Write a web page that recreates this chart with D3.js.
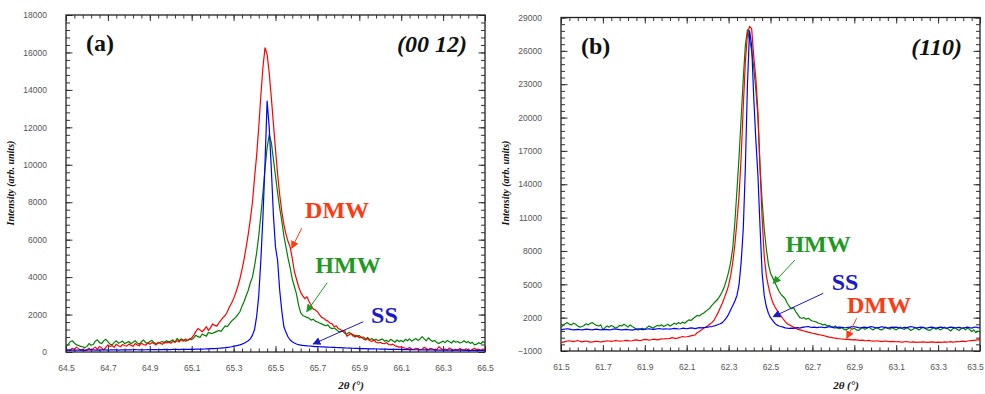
<!DOCTYPE html>
<html>
<head>
<meta charset="utf-8">
<script src="https://cdn.jsdelivr.net/npm/d3@7"></script>
<style>
  body { margin: 0; background: #fff; }
  svg { display: block; }
</style>
</head>
<body>
<svg id="chart" width="985" height="394"></svg>
<script>
// ---- Panel (a): (00 12) reflection, 2θ = 64.50 … 66.50 in 0.01° steps ----
const thetaA = d3.range(201).map(i => +(64.5 + i * 0.01).toFixed(2));

const ssA = [
  100,105,110,100,95,100,105,110,105,100,
  100,110,115,110,105,100,105,110,115,110,
  105,110,120,115,110,105,110,115,120,115,
  110,115,120,125,120,115,110,115,120,125,
  120,125,130,125,120,125,130,135,130,125,
  130,135,140,135,130,135,140,145,140,145,
  150,145,150,155,160,155,160,165,170,175,
  180,185,190,200,210,220,230,245,260,280,
  310,330,350,380,420,470,530,600,700,900,
  1200,1900,3000,4900,7200,10100,13400,12000,9800,7300,
  5600,4900,3300,2200,1350,1050,800,640,550,480,
  430,390,370,350,340,330,320,310,300,290,
  285,280,275,270,265,260,255,250,245,240,
  235,230,225,220,215,210,205,200,195,190,
  185,180,180,175,170,170,165,165,160,160,
  155,155,150,150,145,145,140,140,140,135,
  135,130,130,130,125,125,120,120,120,120,
  115,115,115,110,110,110,110,105,105,105,
  105,100,100,100,100,100,95,95,95,95,
  95,90,90,90,90,90,85,85,85,85,
  85
];

const dmwA = [
  50,120,80,200,150,260,180,90,140,60,
  120,200,90,180,260,140,300,220,110,250,
  380,290,340,250,420,330,280,400,350,310,
  420,360,300,450,380,330,470,400,360,480,
  420,500,450,380,520,460,410,540,480,530,
  470,560,520,600,540,650,580,700,620,680,
  760,900,1100,1250,1180,1080,1200,1350,1150,1300,
  1500,1420,1380,1560,1700,1850,1950,2150,2400,2600,
  2850,3150,3500,3900,4400,4950,5600,6300,7100,8000,
  9300,10500,12000,13700,15200,16250,15900,14900,13600,12200,
  10800,9500,8400,7500,6800,6300,5900,5600,5000,4300,
  3900,3500,3200,3000,2850,2950,2700,2500,2300,2250,
  2150,2000,1850,1800,1700,1650,1550,1500,1350,1400,
  1250,1200,1100,1150,850,900,1000,920,800,880,
  760,800,700,640,720,600,560,650,520,480,
  520,460,440,500,400,380,420,330,300,260,
  280,230,200,180,240,150,130,200,170,110,
  150,250,180,120,200,160,90,140,280,180,
  120,160,100,220,140,80,150,100,190,130,
  90,170,120,60,140,200,110,150,80,160,
  140
];

const hmwA = [
  320,400,550,600,480,380,350,300,280,220,
  300,450,360,400,580,650,500,450,600,680,
  550,420,380,500,600,470,520,580,450,500,
  560,440,520,600,480,420,550,640,500,470,
  560,620,500,450,470,520,560,480,600,540,
  580,650,520,720,600,700,640,580,620,700,
  660,750,900,820,780,960,900,850,1050,1000,
  1000,1050,1100,1150,1100,1250,1400,1350,1500,1650,
  1750,1850,2000,2150,2450,2700,3000,3300,3700,4000,
  4600,5300,6200,7300,8500,9800,10900,11600,11200,10300,
  9400,8500,7700,7000,6200,5600,5000,4500,3900,3500,
  3100,2500,2100,1950,1900,1850,1800,1700,1750,1650,
  1600,1550,1500,1450,1400,1450,1300,1250,1280,1200,
  1100,1080,1150,1000,950,1050,980,850,900,820,
  880,760,800,700,780,650,720,620,680,600,
  650,700,580,620,550,680,600,520,640,560,
  620,540,680,600,700,580,650,720,620,700,
  820,700,600,760,640,560,620,500,460,520,
  580,500,620,550,480,600,520,560,480,520,
  600,500,560,460,520,380,420,500,440,560,
  480
];

// ---- Panel (b): (110) reflection, 2θ = 61.50 … 63.50 in 0.01° steps ----
const thetaB = d3.range(201).map(i => +(61.5 + i * 0.01).toFixed(2));

const ssB = [
  900,950,980,1000,960,920,900,930,950,920,
  900,930,960,950,920,900,940,960,930,900,
  920,950,930,900,920,960,980,950,920,900,
  930,950,920,900,880,920,960,1000,960,930,
  950,980,1000,960,940,970,1000,1020,980,960,
  1000,980,960,1000,1040,1020,980,1000,1050,1030,
  1000,1040,1080,1050,1020,1060,1100,1080,1100,1120,
  1150,1180,1200,1250,1300,1380,1450,1550,1750,2000,
  2300,2700,3100,3500,4000,5000,7000,10000,15500,23000,
  27800,26500,21800,18000,14800,10200,6000,4000,3000,2400,
  2000,1750,1500,1350,1250,1200,1150,1080,1050,1040,
  1060,1040,1080,1100,1060,1120,1150,1180,1200,1150,
  1120,1150,1100,1130,1160,1120,1100,1140,1180,1150,
  1100,1080,1120,1150,1130,1100,1090,1120,1150,1200,
  1180,1140,1100,1080,1120,1150,1100,1130,1200,1160,
  1100,1080,1120,1180,1150,1100,1060,1100,1140,1120,
  1150,1100,1060,1080,1120,1100,1150,1200,1160,1100,
  1080,1120,1150,1100,1060,1080,1120,1150,1100,1060,
  1100,1140,1120,1080,1050,1100,1150,1120,1080,1100,
  1130,1080,1050,1100,1150,1100,1060,1120,1160,1100,
  1080
];

const dmwB = [
  -250,-200,-150,-100,-80,-120,-150,-100,-60,-120,
  -180,-140,-100,-150,-200,-180,-150,-120,-160,-180,
  -150,-120,-80,-100,-140,-100,-60,-80,-120,-100,
  -80,-40,-60,-100,-80,-20,0,-40,-60,0,
  50,20,-20,10,60,40,0,50,100,80,
  120,100,140,200,160,120,180,240,300,260,
  280,320,360,400,440,650,760,880,1050,1150,
  1250,1400,1550,1750,2100,2450,2900,3300,3800,4300,
  4900,5800,7000,8600,10700,13000,16500,21000,25000,27500,
  28200,28000,25500,23500,20500,15500,11000,7500,5800,4800,
  4000,3400,3000,2700,2400,2150,1900,1650,1450,1350,
  1250,1150,1050,950,900,850,800,750,700,650,
  600,560,520,480,440,400,350,300,250,220,
  180,150,120,100,80,60,50,40,20,0,
  20,0,-20,-40,-20,-60,-80,-50,-100,-120,
  -100,-80,-120,-150,-120,-100,-140,-160,-130,-150,
  -170,-150,-180,-200,-170,-150,-190,-210,-180,-200,
  -220,-190,-200,-180,-210,-230,-200,-180,-200,-220,
  -200,-230,-210,-180,-200,-190,-160,-200,-180,-150,
  -170,-140,-120,-150,-100,-80,-60,-40,-20,0,
  20
];

const hmwB = [
  1100,1300,1450,1550,1400,1350,1500,1400,1250,1150,
  1200,1300,1450,1350,1500,1550,1400,1300,1250,1350,
  900,1100,1250,1150,1300,1200,1050,1150,1300,1250,
  1400,1300,1150,1350,1200,1100,950,900,1000,1050,
  950,1100,1250,1150,1050,1200,1300,1250,1350,1200,
  1300,1400,1250,1350,1500,1400,1550,1450,1600,1500,
  1650,1800,1750,1900,2050,2200,2150,2300,2400,2550,
  2700,2850,3100,3300,3500,3700,4000,4350,4800,5400,
  6100,7000,8300,10600,13500,16500,20000,23500,26500,27900,
  27000,26000,24500,22500,20000,15500,12500,10000,8200,6800,
  6000,5600,5200,4800,4400,4100,3900,3700,3300,3000,
  2800,2900,2550,2300,2000,1950,2000,1850,1950,1800,
  1700,1650,1600,1500,1450,1350,1400,1250,1300,1200,
  1150,1250,1050,1000,1100,950,900,1000,1100,950,
  1050,900,850,1000,1100,950,1050,1150,1000,900,
  1050,1100,950,900,1000,1150,1050,950,1100,1000,
  900,1050,1150,1000,950,1100,1000,850,950,1100,
  1000,900,1050,1150,1000,900,850,1000,1100,950,
  1050,900,1000,1150,1050,950,800,1000,1100,950,
  850,1000,1100,900,1050,950,750,900,650,800,
  700
];

// ---- axis ticks ----
const xTicksA = [64.5, 64.7, 64.9, 65.1, 65.3, 65.5, 65.7, 65.9, 66.1, 66.3, 66.5];
const xTicksB = [61.5, 61.7, 61.9, 62.1, 62.3, 62.5, 62.7, 62.9, 63.1, 63.3, 63.5];
const yTicksA = [0, 2000, 4000, 6000, 8000, 10000, 12000, 14000, 16000, 18000];
const yTicksB = [-1000, 2000, 5000, 8000, 11000, 14000, 17000, 20000, 23000, 26000, 29000];

const colors = { DMW: '#ff0000', HMW: '#008000', SS: '#0000ff' };
const labelColors = { DMW: '#ff3a12', HMW: '#1f9a1f', SS: '#1a1acc' };

const panels = [
  {
    tag: '(a)', plane: '(00 12)',
    theta: thetaA,
    series: [ { name: 'HMW', values: hmwA }, { name: 'DMW', values: dmwA }, { name: 'SS', values: ssA } ],
    xDomain: [64.5, 66.5], yDomain: [0, 18000],
    xTicks: xTicksA, yTicks: yTicksA, xMinorStep: 0.04, yMinorStep: 400,
    box: { left: 66, right: 485, top: 15, bottom: 352 },
    // label anchor and arrow (from → to) in data units
    notes: [
      { name: 'DMW', at: [65.794, 7157], from: [65.625, 6607], to: [65.577, 5539] },
      { name: 'HMW', at: [65.846, 4219], from: [65.747, 3701], to: [65.649, 2152] },
      { name: 'SS',  at: [66.020, 1549], from: [65.919, 1618], to: [65.680, 427] }
    ]
  },
  {
    tag: '(b)', plane: '(110)',
    theta: thetaB,
    series: [ { name: 'HMW', values: hmwB }, { name: 'DMW', values: dmwB }, { name: 'SS', values: ssB } ],
    xDomain: [61.5, 63.5], yDomain: [-1000, 29000],
    xTicks: xTicksB, yTicks: yTicksB, xMinorStep: 0.04, yMinorStep: 600,
    box: { left: 561, right: 980, top: 17.5, bottom: 351 },
    notes: [
      { name: 'HMW', at: [62.727, 7906], from: [62.617, 7186], to: [62.513, 5090] },
      { name: 'SS',  at: [62.856, 4488], from: [62.752, 4191], to: [62.513, 2086] },
      { name: 'DMW', at: [63.018, 2418], from: [62.911, 1942], to: [62.864, 142] }
    ]
  }
];

const W = 985;
const svg = d3.select('#chart');
const defs = svg.append('defs');

// arrowheads, one per colour
Object.entries(labelColors).forEach(([name, c]) => {
  defs.append('marker')
    .attr('id', 'arrow-' + name)
    .attr('viewBox', '0 0 10 10')
    .attr('refX', 9).attr('refY', 5)
    .attr('markerWidth', 8).attr('markerHeight', 8)
    .attr('markerUnits', 'userSpaceOnUse')
    .attr('orient', 'auto')
    .append('path')
    .attr('d', 'M0,0 L10,5 L0,10 Z')
    .attr('fill', c);
});

const tickFont = '"Liberation Sans", Arial, sans-serif';
const serif = '"Liberation Serif", "Times New Roman", serif';

panels.forEach((p, pi) => {
  const b = p.box;
  const x = d3.scaleLinear().domain(p.xDomain).range([b.left, b.right]);
  const y = d3.scaleLinear().domain(p.yDomain).range([b.bottom, b.top]);
  const w = b.right - b.left, h = b.bottom - b.top;

  const xMinor = d3.range(p.xDomain[0], p.xDomain[1] + 1e-9, p.xMinorStep).map(v => +v.toFixed(2));
  const yMinor = d3.range(p.yDomain[0], p.yDomain[1] + 1e-9, p.yMinorStep);

  const g = svg.append('g');

  defs.append('clipPath').attr('id', 'clip' + pi)
    .append('rect').attr('x', b.left).attr('y', b.top).attr('width', w).attr('height', h);

  // ticks (all pointing into the plot)
  const styleAxis = sel => {
    sel.select('.domain').remove();
    sel.selectAll('.tick line').attr('stroke', '#333').attr('stroke-width', 1);
    sel.selectAll('.tick text').attr('fill', '#555')
      .style('font-family', tickFont).style('font-size', '8.5px');
  };

  g.append('g').attr('transform', `translate(0,${b.bottom})`)
    .call(d3.axisBottom(x).tickValues(xMinor).tickSize(-3.5).tickFormat(''))
    .call(styleAxis);
  const xAxisG = g.append('g').attr('transform', `translate(0,${b.bottom})`)
    .call(d3.axisBottom(x).tickValues(p.xTicks).tickSize(-6).tickPadding(13).tickFormat(d3.format('.1f')))
    .call(styleAxis);
  // keep the outermost tick label inside the page
  xAxisG.selectAll('.tick text').each(function () {
    const bb = this.getBBox();
    const m = this.parentNode.getCTM();
    const right = m.e + bb.x + bb.width;
    if (right > W - 1) d3.select(this).attr('x', (W - 1) - right);
  });
  g.append('g').attr('transform', `translate(0,${b.top})`)
    .call(d3.axisTop(x).tickValues(xMinor).tickSize(-3.5).tickFormat(''))
    .call(styleAxis);
  g.append('g').attr('transform', `translate(0,${b.top})`)
    .call(d3.axisTop(x).tickValues(p.xTicks).tickSize(-6).tickFormat(''))
    .call(styleAxis);

  g.append('g').attr('transform', `translate(${b.left},0)`)
    .call(d3.axisLeft(y).tickValues(yMinor).tickSize(-4).tickFormat(''))
    .call(styleAxis);
  g.append('g').attr('transform', `translate(${b.left},0)`)
    .call(d3.axisLeft(y).tickValues(p.yTicks).tickSize(-6.5).tickPadding(19).tickFormat(d3.format('d')))
    .call(styleAxis);
  g.append('g').attr('transform', `translate(${b.right},0)`)
    .call(d3.axisRight(y).tickValues(yMinor).tickSize(-4).tickFormat(''))
    .call(styleAxis);
  g.append('g').attr('transform', `translate(${b.right},0)`)
    .call(d3.axisRight(y).tickValues(p.yTicks).tickSize(-6.5).tickFormat(''))
    .call(styleAxis);

  // frame
  g.append('rect')
    .attr('x', b.left).attr('y', b.top).attr('width', w).attr('height', h)
    .attr('fill', 'none').attr('stroke', '#222').attr('stroke-width', 1.3);

  // curves
  const line = d3.line()
    .x((d, i) => x(p.theta[i]))
    .y(d => y(d));
  const curves = g.append('g').attr('clip-path', `url(#clip${pi})`);
  p.series.forEach(s => {
    curves.append('path')
      .datum(s.values)
      .attr('d', line)
      .attr('fill', 'none')
      .attr('stroke', colors[s.name])
      .attr('stroke-width', 1.2)
      .attr('stroke-linejoin', 'round');
  });

  // series labels and arrows
  p.notes.forEach(n => {
    g.append('line')
      .attr('x1', x(n.from[0])).attr('y1', y(n.from[1]))
      .attr('x2', x(n.to[0])).attr('y2', y(n.to[1]))
      .attr('stroke', labelColors[n.name]).attr('stroke-width', 1)
      .attr('marker-end', `url(#arrow-${n.name})`);
    g.append('text')
      .attr('x', x(n.at[0])).attr('y', y(n.at[1]))
      .attr('text-anchor', 'middle')
      .attr('fill', labelColors[n.name])
      .style('font-family', serif).style('font-weight', 'bold').style('font-size', '24px')
      .text(n.name);
  });

  // panel tag and reflection
  g.append('text')
    .attr('x', b.left + 20).attr('y', b.top + 36)
    .style('font-family', serif).style('font-weight', 'bold').style('font-size', '24px')
    .attr('fill', '#111')
    .text(p.tag);
  g.append('text')
    .attr('x', b.right - 18).attr('y', b.top + 37)
    .attr('text-anchor', 'end')
    .style('font-family', serif).style('font-weight', 'bold').style('font-style', 'italic').style('font-size', '24px')
    .attr('fill', '#111')
    .text(p.plane);

  // axis titles
  g.append('text')
    .attr('transform', `translate(${b.left - 52},${183}) rotate(-90)`)
    .attr('text-anchor', 'middle')
    .style('font-family', serif).style('font-weight', 'bold').style('font-style', 'italic').style('font-size', '10px')
    .attr('fill', '#111')
    .text('Intensity (arb. units)');
  g.append('text')
    .attr('x', b.left + 285).attr('y', 389)
    .attr('text-anchor', 'middle')
    .style('font-family', serif).style('font-weight', 'bold').style('font-style', 'italic').style('font-size', '11px')
    .attr('fill', '#111')
    .text('2θ (°)');
});
</script>
</body>
</html>
